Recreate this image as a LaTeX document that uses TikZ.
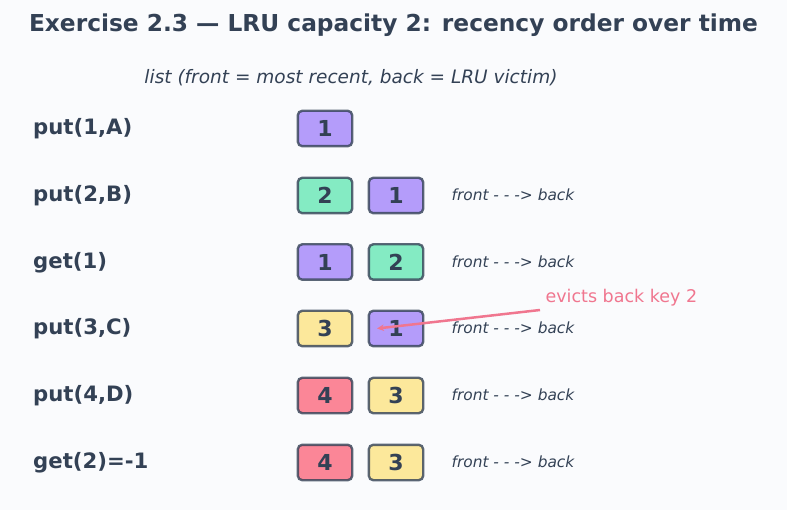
\documentclass[tikz,border=0pt]{standalone}
\usepackage{fontspec}
\setmainfont{DejaVu Sans}
\usetikzlibrary{arrows.meta}

\definecolor{ink}{HTML}{334155}
\definecolor{paper}{HTML}{FAFBFD}
\definecolor{kpurple}{HTML}{B49CFA}
\definecolor{kgreen}{HTML}{84EBC3}
\definecolor{kpink}{HTML}{FB8697}
\definecolor{kyellow}{HTML}{FCE89B}
\definecolor{victim}{HTML}{F0768F}

\begin{document}
\begin{tikzpicture}[x=1pt,y=-1pt,
  op/.style={anchor=west, inner sep=0pt, text=ink, font=\bfseries\fontsize{21.2}{24}\selectfont},
  key/.style={draw=ink, draw opacity=0.8, line width=2.4pt, rounded corners=4.5pt,
    minimum width=54.4pt, minimum height=35.4pt, inner sep=0pt, text=ink,
    font=\bfseries\fontsize{22}{26}\selectfont},
  dir/.style={text=ink, font=\itshape\fontsize{15.4}{18}\selectfont},
  evict/.style={draw=victim, line width=2.5pt, -{Stealth[length=7pt,width=6.5pt]}}]
\useasboundingbox[fill=paper] (0,0) rectangle (787,510);

\node[text=ink, font=\bfseries\fontsize{23.3}{28}\selectfont] (title) at (393.5,25)
  {Exercise 2.3 — LRU capacity 2: recency order over time};
\node[text=ink, font=\itshape\fontsize{18.5}{22}\selectfont] (sub) at (351,78)
  {list (front = most recent, back = LRU victim)};

\node[op] (op1) at (33,129) {put(1,A)};
\node[key, fill=kpurple] (r1a) at (325,128.5) {1};

\node[op] (op2) at (33,196) {put(2,B)};
\node[key, fill=kgreen] (r2a) at (325,195.5) {2};
\node[key, fill=kpurple] (r2b) at (396,195.5) {1};
\node[dir] (d2) at (513,195) {front - - -> back};

\node[op] (op3) at (33,263) {get(1)};
\node[key, fill=kpurple] (r3a) at (325,262) {1};
\node[key, fill=kgreen] (r3b) at (396,262) {2};
\node[dir] (d3) at (513,262) {front - - -> back};

\node[op] (op4) at (33,329) {put(3,C)};
\node[key, fill=kyellow] (r4a) at (325,328.5) {3};
\node[key, fill=kpurple] (r4b) at (396,328.5) {1};
\node[dir] (d4) at (513,328) {front - - -> back};

\node[op] (op5) at (33,396) {put(4,D)};
\node[key, fill=kpink] (r5a) at (325,395.5) {4};
\node[key, fill=kyellow] (r5b) at (396,395.5) {3};
\node[dir] (d5) at (513,395) {front - - -> back};

\node[op] (op6) at (33,463) {get(2)=-1};
\node[key, fill=kpink] (r6a) at (325,462.5) {4};
\node[key, fill=kyellow] (r6b) at (396,462.5) {3};
\node[dir] (d6) at (513,462) {front - - -> back};

\node[anchor=west, text=victim, font=\fontsize{17.5}{20}\selectfont] (note) at (542,298)
  {evicts back key 2};
\draw[evict] ([xshift=-2pt]note.south west) -- ([xshift=-19pt]r4b.center);
\end{tikzpicture}
\end{document}
